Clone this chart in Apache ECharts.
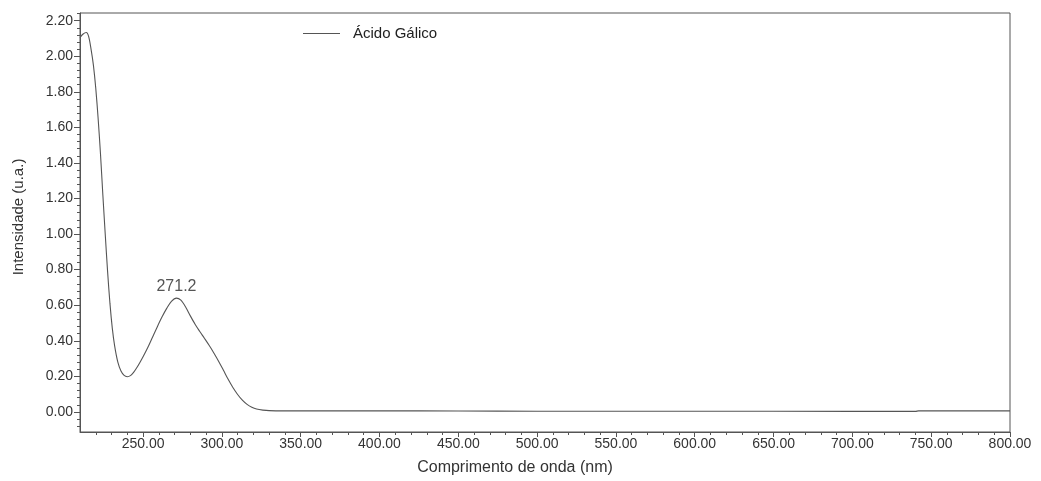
<!DOCTYPE html>
<html>
<head>
<meta charset="utf-8">
<script src="https://cdn.jsdelivr.net/npm/echarts@6/dist/echarts.min.js"></script>
<style>html,body{margin:0;padding:0;background:#fff;}#c{width:1041px;height:481px;}</style>
</head>
<body>
<div id="c"></div>
<script>
var seriesName = 'Ácido Gálico';
var wavelengths = [210, 212, 214, 215.5, 217, 218.5, 220, 221.5, 223, 224.5, 226, 227.5, 229, 230.5, 232, 234, 236, 238, 240, 242, 244, 246, 248, 250, 253, 256, 259, 262, 265, 268, 271.2, 274, 277, 280, 283, 286, 289, 292, 295, 298, 301, 304, 307, 310, 313, 316, 319, 322, 326, 330, 340, 400, 450, 500, 600, 700, 740, 742, 800];
var intensity = [2.105, 2.125, 2.133, 2.11, 2.04, 1.95, 1.82, 1.65, 1.45, 1.22, 1.0, 0.79, 0.61, 0.47, 0.37, 0.28, 0.23, 0.205, 0.198, 0.204, 0.222, 0.248, 0.278, 0.31, 0.362, 0.42, 0.478, 0.533, 0.582, 0.622, 0.64, 0.628, 0.59, 0.54, 0.493, 0.452, 0.413, 0.373, 0.33, 0.284, 0.234, 0.183, 0.137, 0.098, 0.066, 0.042, 0.026, 0.016, 0.010, 0.007, 0.006, 0.006, 0.005, 0.004, 0.004, 0.003, 0.003, 0.006, 0.006];
var peakWavelength = 271.2;
var peakIntensity = 0.64;
var xTicks = [250, 300, 350, 400, 450, 500, 550, 600, 650, 700, 750, 800];
var yTicks = [0, 0.2, 0.4, 0.6, 0.8, 1.0, 1.2, 1.4, 1.6, 1.8, 2.0, 2.2];
var xTitle = 'Comprimento de onda (nm)';
var yTitle = 'Intensidade (u.a.)';

var data = wavelengths.map(function (w, i) { return [w, intensity[i]]; });
var FONT = '"Liberation Sans", Arial, sans-serif';
var axisColor = '#555';

var chart = echarts.init(document.getElementById('c'), null, {renderer: 'canvas'});
chart.setOption({
  animation: false,
  backgroundColor: '#fff',
  grid: {left: 80, right: 31, top: 13, bottom: 49, show: true, borderColor: axisColor, borderWidth: 1, backgroundColor: 'transparent'},
  legend: {
    data: [{name: seriesName, icon: 'rect'}], left: 298, top: 21, itemWidth: 37, itemHeight: 1.2,
    itemStyle: {color: '#555'},
    textStyle: {fontFamily: FONT, fontSize: 15, color: '#222', padding: [0, 0, 0, 8]}
  },
  xAxis: {
    type: 'value', min: 210, max: 800, minInterval: 50, maxInterval: 50,
    splitLine: {show: false},
    axisLine: {show: true, onZero: false, lineStyle: {color: axisColor, width: 1}},
    axisTick: {show: true, length: 5, customValues: xTicks, lineStyle: {color: axisColor}},
    minorTick: {show: true, splitNumber: 5, length: 3, lineStyle: {color: axisColor}},
    axisLabel: {customValues: xTicks, margin: 5, fontFamily: FONT, fontSize: 14, color: '#333',
      formatter: function (v) { return v.toFixed(2); }}
  },
  yAxis: {
    type: 'value', min: -0.113, max: 2.243, minInterval: 0.2, maxInterval: 0.2,
    splitLine: {show: false},
    axisLine: {show: true, onZero: false, lineStyle: {color: axisColor, width: 1}},
    axisTick: {show: true, length: 6, customValues: yTicks, lineStyle: {color: axisColor}},
    minorTick: {show: true, splitNumber: 5, length: 3, lineStyle: {color: axisColor}},
    axisLabel: {customValues: yTicks, margin: 7, fontFamily: FONT, fontSize: 14, color: '#333',
      formatter: function (v) { return v.toFixed(2); }}
  },
  graphic: [
    {type: 'text', x: 515, y: 468, style: {text: xTitle, font: '16px ' + FONT, fill: '#333', align: 'center', verticalAlign: 'middle'}},
    {type: 'text', x: 18.5, y: 217, rotation: Math.PI / 2, style: {text: yTitle, font: '15px ' + FONT, fill: '#333', align: 'center', verticalAlign: 'middle'}}
  ],
  series: [{
    name: seriesName, type: 'line', data: data, showSymbol: false, symbol: 'none',
    smooth: 0.3,
    lineStyle: {color: '#555', width: 1.1}, itemStyle: {color: '#555'},
    markPoint: {
      symbol: 'circle', symbolSize: 0,
      label: {show: true, position: 'top', distance: 3, formatter: function () { return peakWavelength.toFixed(1); },
        fontFamily: FONT, fontSize: 16, color: '#555'},
      data: [{coord: [peakWavelength, peakIntensity]}]
    }
  }]
});
</script>
</body>
</html>
